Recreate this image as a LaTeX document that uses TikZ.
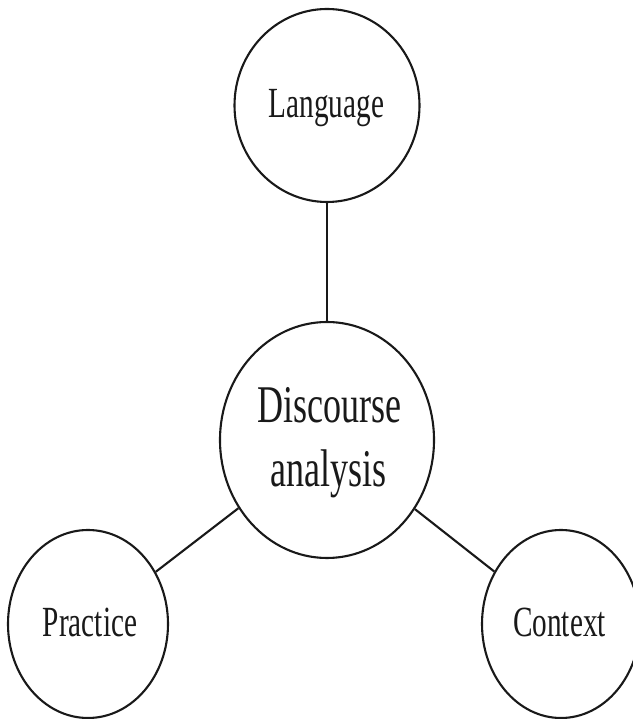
\documentclass[tikz,border=0pt]{standalone}
\usepackage{fontspec}
\setmainfont{Liberation Serif}
\usetikzlibrary{shapes.geometric}
\begin{document}
\begin{tikzpicture}[x=1pt,y=1pt,
  bubble/.style={draw=black!90, line width=2.1pt, ellipse, inner sep=0pt},
  conn/.style={draw=black!90, line width=2.1pt},
  lbl/.style={anchor=base, inner sep=0pt, text=black!90},
  small/.style={font=\fontsize{43}{43}\selectfont},
  big/.style={font=\fontsize{53}{64}\selectfont}]
\useasboundingbox (0,0) rectangle (632,719);
\node[bubble, minimum width=185pt, minimum height=193pt] (lang) at (327,613.5) {};
\node[bubble, minimum width=214pt, minimum height=236pt] (disc) at (327,279) {};
\node[bubble, minimum width=160pt, minimum height=188pt] (prac) at (88,95) {};
\node[bubble, minimum width=158pt, minimum height=188pt] (cont) at (561,95) {};
\draw[conn] (lang) -- (disc);
\draw[conn] (disc) -- (prac);
\draw[conn] (disc) -- (cont);
\node[lbl, small] (tlang) at (326.5,601) {\scalebox{0.68}[1]{Language}};
\node[lbl, big] (tdisc) at (329.5,296) {\scalebox{0.68}[1]{Discourse}};
\node[lbl, big] (tana) at (328.5,232) {\scalebox{0.68}[1]{analysis}};
\node[lbl, small] (tprac) at (90,82) {\scalebox{0.68}[1]{Practice}};
\node[lbl, small] (tcont) at (559.5,82) {\scalebox{0.68}[1]{Context}};
\end{tikzpicture}
\end{document}
